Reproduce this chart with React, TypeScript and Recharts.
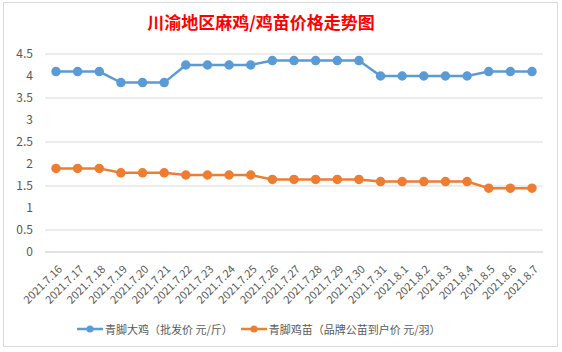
import React from 'react';
import { LineChart, Line, XAxis, YAxis, CartesianGrid, Legend } from 'recharts';

// 日期
const dates = [
    '2021.7.16', '2021.7.17', '2021.7.18', '2021.7.19', '2021.7.20', '2021.7.21',
    '2021.7.22', '2021.7.23', '2021.7.24', '2021.7.25', '2021.7.26', '2021.7.27',
    '2021.7.28', '2021.7.29', '2021.7.30', '2021.7.31', '2021.8.1', '2021.8.2',
    '2021.8.3', '2021.8.4', '2021.8.5', '2021.8.6', '2021.8.7',
];

// 青脚大鸡（批发价 元/斤）
const bigChicken = [
    4.1, 4.1, 4.1, 3.85, 3.85, 3.85, 4.25, 4.25, 4.25, 4.25, 4.35, 4.35,
    4.35, 4.35, 4.35, 4.0, 4.0, 4.0, 4.0, 4.0, 4.1, 4.1, 4.1,
];

// 青脚鸡苗（品牌公苗到户价 元/羽）
const chicks = [
    1.9, 1.9, 1.9, 1.8, 1.8, 1.8, 1.75, 1.75, 1.75, 1.75, 1.65, 1.65,
    1.65, 1.65, 1.65, 1.6, 1.6, 1.6, 1.6, 1.6, 1.45, 1.45, 1.45,
];

const yTicks = [0, 0.5, 1, 1.5, 2, 2.5, 3, 3.5, 4, 4.5];

const seriesNames = ['青脚大鸡（批发价 元/斤）', '青脚鸡苗（品牌公苗到户价 元/羽）'];
const colors = ['#5B9BD5', '#ED7D31'];

const chartData = dates.map((d, i) => ({ date: d, big: bigChicken[i], chick: chicks[i] }));

const font = '"Noto Sans CJK SC", "Microsoft YaHei", sans-serif';

const DateTick = (props: any) => {
    const { x, y, payload } = props;
    return (
        <g transform={`translate(${x + 4},${y + 7})`}>
            <text
                transform="rotate(-45)"
                textAnchor="end"
                fontSize={11}
                fill="#595959"
                fontFamily={font}
                dy={4}
            >
                {payload.value}
            </text>
        </g>
    );
};

const LegendBox = () => (
    <div style={{ display: 'flex', alignItems: 'center', fontFamily: font, fontSize: 11, color: '#595959', whiteSpace: 'nowrap' }}>
        {seriesNames.map((n, i) => (
            <div key={n} style={{ display: 'flex', alignItems: 'center', marginRight: 8 }}>
                <svg width={26} height={10} style={{ marginRight: 2 }}>
                    <line x1={0} y1={5} x2={26} y2={5} stroke={colors[i]} strokeWidth={2.5} />
                    <circle cx={13} cy={5} r={3.5} fill={colors[i]} />
                </svg>
                <span>{n}</span>
            </div>
        ))}
    </div>
);

const App = () => {
    return (
        <div style={{ position: 'absolute', left: 0, top: 0, width: 562, height: 352, background: '#fff', overflow: 'hidden' }}>
            {/* 图表区边框 */}
            <div style={{
                position: 'absolute', left: 3, top: 2, width: 555, height: 345,
                border: '1px solid #d9d9d9', boxSizing: 'border-box'
            }} />
            <div style={{
                position: 'absolute', left: 0, top: 9, width: 522, textAlign: 'center',
                fontFamily: font, fontWeight: 'bold', fontSize: 17, color: '#FF0000'
            }}>
                川渝地区麻鸡/鸡苗价格走势图
            </div>
            <LineChart
                width={562}
                height={352}
                data={chartData}
                margin={{ top: 54, right: 19, left: 10, bottom: 40 }}
                style={{ position: 'absolute', left: 0, top: 0 }}
            >
                <CartesianGrid vertical={false} stroke="#d9d9d9" strokeWidth={1} />
                <XAxis
                    dataKey="date"
                    interval={0}
                    tick={<DateTick />}
                    tickLine={false}
                    axisLine={{ stroke: '#d9d9d9' }}
                    height={60}
                    padding={{ left: 11, right: 11 }}
                />
                <YAxis
                    domain={[0, 4.5]}
                    ticks={yTicks}
                    tick={{ fontSize: 12, fill: '#595959', fontFamily: font }}
                    tickLine={false}
                    axisLine={false}
                    width={35}
                    tickMargin={6}
                />
                <Legend
                    content={<LegendBox />}
                    height={0}
                    wrapperStyle={{ position: 'absolute', left: 77, top: 321, width: 'auto', height: 0 }}
                />
                <Line
                    dataKey="big"
                    name={seriesNames[0]}
                    stroke={colors[0]}
                    strokeWidth={2.5}
                    dot={{ r: 3.5, fill: colors[0], stroke: colors[0] }}
                    isAnimationActive={false}
                />
                <Line
                    dataKey="chick"
                    name={seriesNames[1]}
                    stroke={colors[1]}
                    strokeWidth={2.5}
                    dot={{ r: 3.5, fill: colors[1], stroke: colors[1] }}
                    isAnimationActive={false}
                />
            </LineChart>
        </div>
    );
};

export default App;
